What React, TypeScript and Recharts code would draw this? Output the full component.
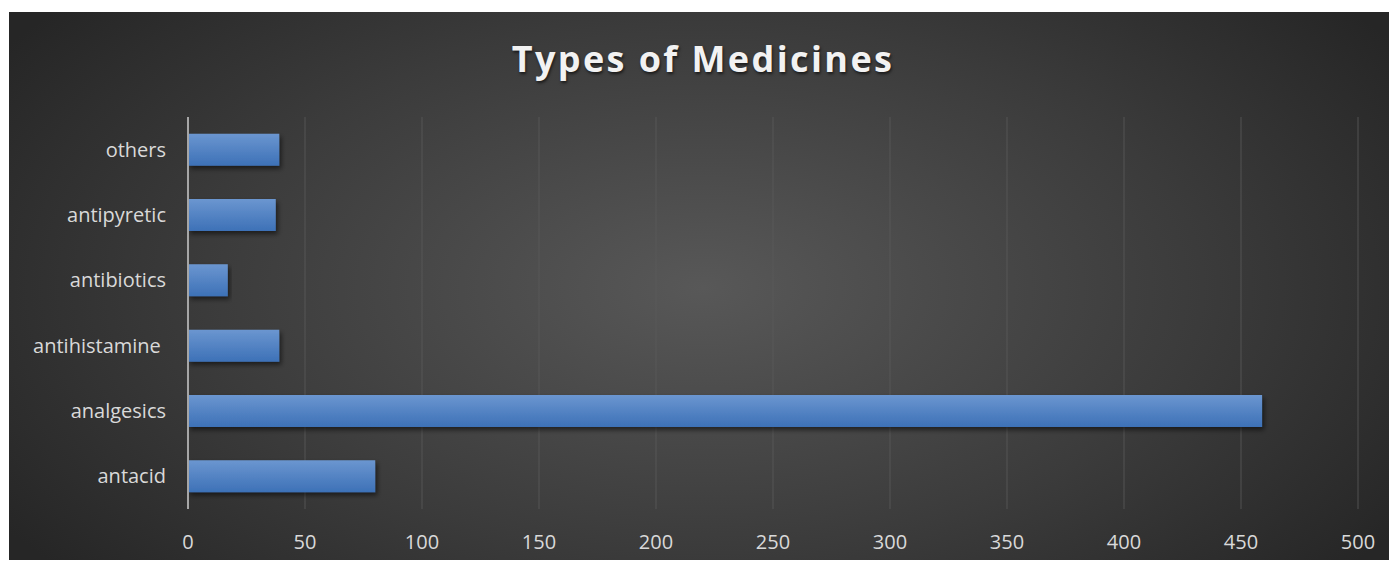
import { BarChart, Bar, XAxis, YAxis, CartesianGrid } from 'recharts'

const CATEGORIES = ['antacid', 'analgesics', 'antihistamine ', 'antibiotics', 'antipyretic', 'others']
const COUNTS = [80, 459, 39, 17, 37.5, 39]
const X_TICKS = [0, 50, 100, 150, 200, 250, 300, 350, 400, 450, 500]

const data = CATEGORIES.map((name, i) => ({ name, count: COUNTS[i] }))

const FONT = '"Open Sans", "Noto Sans", sans-serif'

export default function App() {
  return (
    <div
      style={{
        position: 'relative',
        left: 1,
        top: 4,
        width: 1388,
        height: 552,
        background: 'radial-gradient(ellipse 60% 80% at 50% 50%, #585858 0%, #3b3b3b 60%, #262626 100%)',
        fontFamily: FONT,
      }}
    >
      <div
        style={{
          position: 'absolute',
          top: 23,
          width: '100%',
          textAlign: 'center',
          color: '#f2f2f2',
          fontSize: 36,
          lineHeight: '48px',
          fontWeight: 700,
          letterSpacing: 2.4,
          textShadow: '1px 2px 3px rgba(0,0,0,0.6)',
        }}
      >
        Types of Medicines
      </div>
      <BarChart
        width={1388}
        height={552}
        data={data}
        layout="vertical"
        margin={{ top: 105, right: 39, bottom: 0, left: 0 }}
        barCategoryGap="25.5%"
      >
        <defs>
          <linearGradient id="barFill" x1="0" y1="0" x2="0" y2="1">
            <stop offset="0%" stopColor="#6b96d0" />
            <stop offset="100%" stopColor="#3d71b7" />
          </linearGradient>
          <filter id="barShadow" x="-5%" y="-20%" width="115%" height="160%">
            <feDropShadow dx="2" dy="3" stdDeviation="2.5" floodColor="#000" floodOpacity="0.55" />
          </filter>
        </defs>
        <CartesianGrid horizontal={false} stroke="#5a5a5a" strokeOpacity={0.8} />
        <XAxis
          type="number"
          domain={[0, 500]}
          ticks={X_TICKS}
          height={55}
          axisLine={false}
          tickLine={false}
          tickSize={0}
          tickMargin={26}
          tick={{ fill: '#d9d9d9', fontSize: 20, fontFamily: FONT }}
        />
        <YAxis
          type="category"
          dataKey="name"
          reversed
          width={179}
          axisLine={{ stroke: '#a6a6a6', strokeWidth: 2 }}
          tickLine={false}
          tickSize={0}
          tickMargin={22}
          tick={{ fill: '#d9d9d9', fontSize: 20, fontFamily: FONT, style: { whiteSpace: 'pre' } }}
        />
        <Bar
          dataKey="count"
          fill="url(#barFill)"
          filter="url(#barShadow)"
          isAnimationActive={false}
        />
      </BarChart>
    </div>
  )
}
